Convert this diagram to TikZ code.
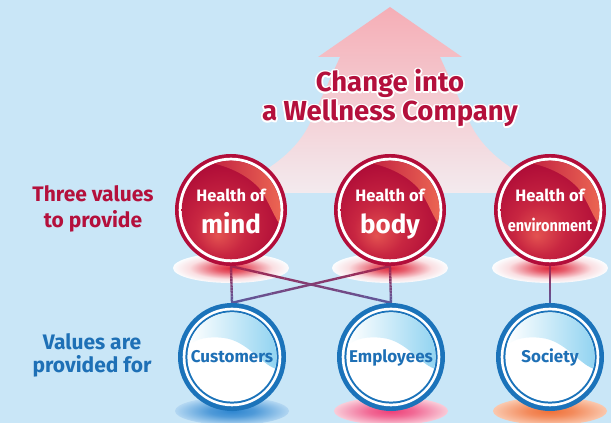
\documentclass[tikz,border=0pt]{standalone}
\usepackage{fontspec}
\setmainfont{Fira Sans}
\usetikzlibrary{calc}
\definecolor{bg}{HTML}{C9E6F7}
\definecolor{arrowTop}{HTML}{F5AEB6}
\definecolor{arrowBot}{HTML}{F3EAEE}
\definecolor{redring}{HTML}{B20D3A}
\definecolor{ballDark}{HTML}{AE0B37}
\definecolor{ballMid}{HTML}{C82641}
\definecolor{ballLight}{HTML}{E35250}
\definecolor{swooshL}{HTML}{C42642}
\definecolor{swooshR}{HTML}{EC6653}
\definecolor{bluering}{HTML}{1B73BA}
\definecolor{swooshBlue}{HTML}{8CD1F0}
\definecolor{txtRed}{HTML}{B4103C}
\definecolor{txtBlue}{HTML}{1E70B6}
\definecolor{lineTop}{HTML}{A8234A}
\definecolor{lineBot}{HTML}{5C5A9E}
\definecolor{shRed}{HTML}{E0283C}
\definecolor{shBlue}{HTML}{2E86D0}
\definecolor{shBlueE}{HTML}{B3D7F2}
\definecolor{shPink}{HTML}{EE3F78}
\definecolor{shPinkE}{HTML}{F9CCD9}
\definecolor{shOrange}{HTML}{F07038}
\definecolor{shOrangeE}{HTML}{FAC8AE}

\pgfdeclareradialshading{redglow}{\pgfpoint{-7bp}{-13bp}}{color(0bp)=(ballLight); color(13bp)=(ballMid); color(30bp)=(ballDark); color(50bp)=(ballDark)}
\pgfdeclareradialshading{shadowred}{\pgfpointorigin}{color(0bp)=(shRed); color(7bp)=(shRed!75!white); color(18bp)=(shRed!15!white); color(25bp)=(white!92!bg); color(50bp)=(bg)}
\pgfdeclareradialshading{shadowblue}{\pgfpointorigin}{color(0bp)=(shBlue); color(10bp)=(shBlue!75!shBlueE); color(25bp)=(shBlueE); color(50bp)=(bg)}
\pgfdeclareradialshading{shadowpink}{\pgfpointorigin}{color(0bp)=(shPink); color(10bp)=(shPink!70!shPinkE); color(25bp)=(shPinkE); color(50bp)=(bg)}
\pgfdeclareradialshading{shadoworange}{\pgfpointorigin}{color(0bp)=(shOrange); color(10bp)=(shOrange!70!shOrangeE); color(25bp)=(shOrangeE); color(50bp)=(bg)}

\newcommand\halotext[1]{\leavevmode\rlap{\color{white}\foreach \ang in {0,30,...,330}{\pgfmathsetlengthmacro\hx{1.8pt*cos(\ang)}\pgfmathsetlengthmacro\hy{1.8pt*sin(\ang)}\rlap{\kern\hx\raisebox{\hy}{#1}}}}#1}

\newcommand\gradline[2]{\foreach \i in {0,...,11}{%
  \pgfmathsetmacro\pa{\i/12}\pgfmathsetmacro\pb{(\i+1)/12}%
  \pgfmathtruncatemacro\pc{100-(\i+0.5)*100/12}%
  \draw[conn, color=lineTop!\pc!lineBot] ($(#1)!\pa!(#2)$) -- ($(#1)!\pb!(#2)$);}}

\tikzset{
  ballnode/.style={circle, inner sep=0pt, minimum size=#1},
  conn/.style={line width=2.4pt},
  titletext/.style={font=\fontsize{27.5}{31}\selectfont\bfseries, text=txtRed, inner sep=0pt, anchor=base},
  lefttext/.style={font=\fontsize{21}{24}\selectfont\bfseries, inner sep=0pt, anchor=base},
  smalltext/.style={font=\fontsize{16.5}{19}\selectfont\bfseries, text=white, inner sep=0pt, anchor=base},
  bigtext/.style={font=\fontsize{26}{30}\selectfont\bfseries, text=white, inner sep=0pt, anchor=base},
  bluetext/.style={font=\fontsize{17}{20}\selectfont\bfseries, text=txtBlue, inner sep=0pt, anchor=base},
  redball/.pic={
    \fill[redring] (0,0) circle (56pt);
    \fill[white] (0,0) circle (52.3pt);
    \shade[shading=redglow] (0,0) circle (49.3pt);
    \shade[left color=swooshL, right color=swooshR]
      (110:49.3) arc (110:-15:49.3pt) .. controls (40,0) and (36,12) .. (28,22)
      .. controls (18,33) and (2,42) .. (110:49.3) -- cycle;
  },
  blueball/.pic={
    \fill[bluering] (0,0) circle (54pt);
    \fill[white] (0,0) circle (49.3pt);
    \fill[bluering] (0,0) circle (46.6pt);
    \fill[white] (0,0) circle (44.6pt);
    \shade[left color=white, right color=swooshBlue]
      (164:44.6) arc (164:-15:44.6pt) .. controls (28,-6) and (15,16) .. (-8,19)
      .. controls (-25,21) and (-35,18) .. (164:44.6) -- cycle;
  }
}

\begin{document}
\begin{tikzpicture}[x=1pt,y=1pt]
\useasboundingbox (0,0) rectangle (611,423);
\fill[bg] (0,0) rectangle (611,423);

% big arrow
\shade[top color=arrowTop, bottom color=arrowBot]
  (390,416) -- (462,366) -- (440,366) -- (470,300)
  .. controls (485,268) and (520,245) .. (565,230)
  -- (215,230) .. controls (260,245) and (295,268) .. (310,300)
  -- (340,366) -- (318,366) -- cycle;

% title
\node[titletext] (title1) at (390,331) {\halotext{Change into}};
\node[titletext] (title2) at (390,302) {\halotext{a Wellness Company}};

% left labels
\node[lefttext, text=txtRed] (lab1a) at (93,221) {Three values};
\node[lefttext, text=txtRed] (lab1b) at (93,195) {to provide};
\node[lefttext, text=txtBlue] (lab2a) at (92,73) {Values are};
\node[lefttext, text=txtBlue] (lab2b) at (92,50) {provided for};

% ball positions
\node[ballnode=112pt] (m) at (231,213) {};
\node[ballnode=112pt] (b) at (390,213) {};
\node[ballnode=112pt] (e) at (550,213) {};
\node[ballnode=108pt] (c) at (232,66) {};
\node[ballnode=108pt] (em) at (391,66) {};
\node[ballnode=108pt] (s) at (550,66) {};

% shadows
\foreach \n in {m,b,e}{
  \shade[shading=shadowred] ([yshift=-58pt]\n.center) ellipse (58pt and 15pt);
}
\shade[shading=shadowblue] ([yshift=-54pt]c.center) ellipse (57pt and 14pt);
\shade[shading=shadowpink] ([yshift=-54pt]em.center) ellipse (57pt and 14pt);
\shade[shading=shadoworange] ([yshift=-54pt]s.center) ellipse (57pt and 14pt);

% connectors
\gradline{m.south}{c.north}
\gradline{m.south}{em.north}
\gradline{b.south}{c.north}
\gradline{b.south}{em.north}
\gradline{e.south}{s.north}

% balls
\pic at (m) {redball};
\pic at (b) {redball};
\pic at (e) {redball};
\pic at (c) {blueball};
\pic at (em) {blueball};
\pic at (s) {blueball};

% ball texts
\node[smalltext] (m1) at ([yshift=8pt]m.center) {Health of};
\node[bigtext] (m2) at ([yshift=-24pt]m.center) {mind};
\node[smalltext] (b1) at ([yshift=8pt]b.center) {Health of};
\node[bigtext] (b2) at ([yshift=-24pt]b.center) {body};
\node[smalltext] (e1) at ([yshift=8pt]e.center) {Health of};
\node[smalltext] (e2) at ([yshift=-22pt]e.center) {\scalebox{0.88}[1]{environment}};
\node[bluetext] (c1) at ([yshift=-6pt]c.center) {Customers};
\node[bluetext] (em1) at ([yshift=-6pt]em.center) {Employees};
\node[bluetext] (s1) at ([yshift=-6pt]s.center) {Society};
\end{tikzpicture}
\end{document}
